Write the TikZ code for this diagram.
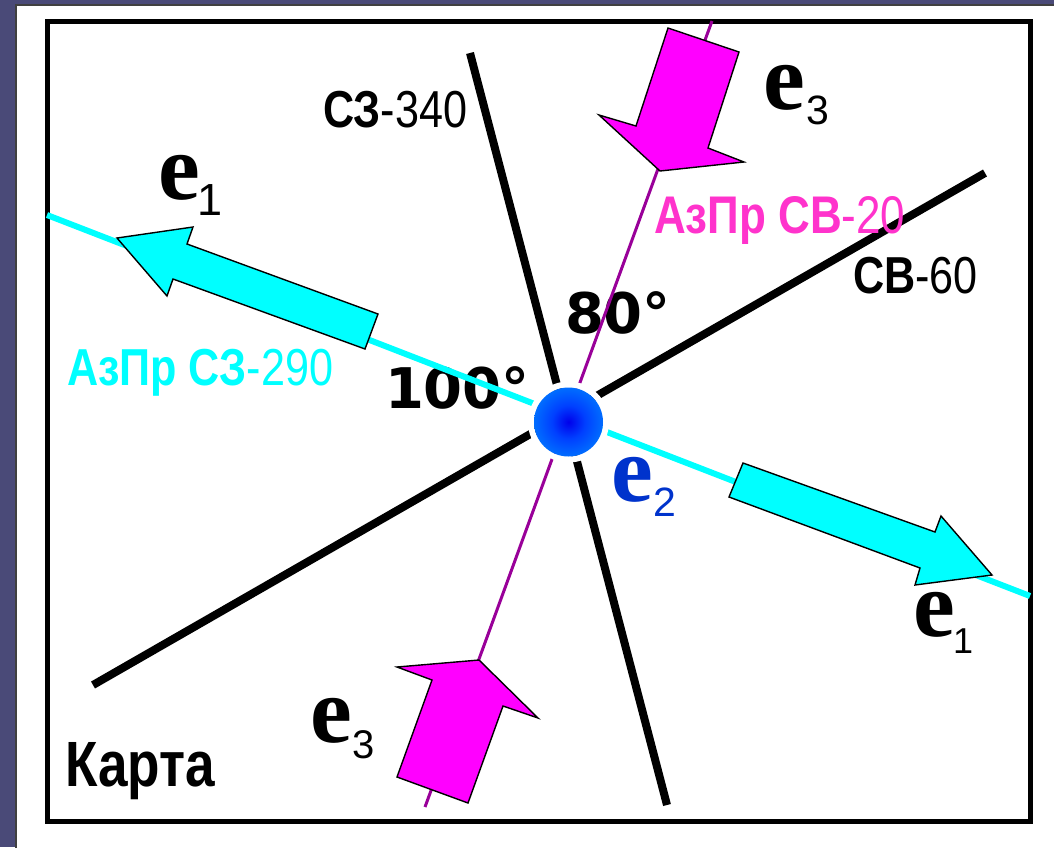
\documentclass[tikz,border=0pt]{standalone}
\usepackage{fontspec}
\setmainfont{Liberation Serif}
\newfontfamily\narrowsans[FakeStretch=0.83]{Liberation Sans}
\newfontfamily\plainsans{Liberation Sans}
\newfontfamily\degsans{DejaVu Sans}
\definecolor{slidebg}{RGB}{74,74,120}
\definecolor{axiscyan}{RGB}{0,255,255}
\definecolor{axispurple}{RGB}{153,0,153}
\definecolor{arrowmag}{RGB}{255,0,255}
\definecolor{labelmag}{RGB}{255,51,204}
\definecolor{etwo}{RGB}{0,51,204}
\pgfdeclareradialshading{ballshade}{\pgfpoint{0bp}{0bp}}{%
  rgb(0bp)=(0,0,0.92); rgb(12bp)=(0,0.25,1); rgb(34bp)=(0,0.55,1); rgb(50bp)=(0,0.6,1)}
\begin{document}
\begin{tikzpicture}[x=1pt,y=-1pt,
  axisline/.style={line width=8pt,black},
  cyanline/.style={line width=6pt,axiscyan},
  purpleline/.style={line width=3pt,axispurple},
  blockarrow/.style={draw=black,line width=1.4pt,line join=miter},
  lbl/.style={anchor=base west,inner sep=0pt,outer sep=0pt},
  vecE/.style={lbl,font=\fontsize{94}{94}\selectfont\bfseries},
  subidx/.style={lbl,font=\plainsans\fontsize{#1}{#1}\selectfont},
  dirtext/.style={lbl,font=\narrowsans\fontsize{52}{52}\selectfont},
  degtext/.style={lbl,font=\degsans\bfseries\fontsize{56}{56}\selectfont}]
\useasboundingbox (0,0) rectangle (1054,847);

% slide background and white sheet
\fill[slidebg] (0,0) rectangle (1054,847);
\fill[white,draw=black!75,line width=1.2pt] (16,5) rectangle (1056,849);

% map frame
\draw[line width=5pt,black] (47,21) rectangle (1030,821);

% angle labels (under the direction lines)
\node[degtext] (a80) at (565,333) {80°};
\node[degtext] (a100) at (385,408) {100°};

% centre point and line ends
\coordinate (O) at (568.5,422);
\coordinate (nw1) at (470,53);
\coordinate (nw2) at (667,805);
\coordinate (ne1) at (985,173);
\coordinate (ne2) at (93,685);
\coordinate (az1) at (712,21);
\coordinate (az2) at (425,807);
\coordinate (ac1) at (47,215);
\coordinate (ac2) at (1030,596);

\draw[axisline] (nw1) -- (nw2);
\draw[axisline] (ne1) -- (ne2);
\draw[purpleline] (az1) -- (az2);
\draw[cyanline] (ac1) -- (ac2);

% e1 block arrows (cyan)
\filldraw[blockarrow,fill=axiscyan]
  (117,238) -- (193,227) -- (187,244) -- (378,314) -- (365,349) -- (173,279) -- (167,296) -- cycle;
\filldraw[blockarrow,fill=axiscyan]
  (992,575) -- (941,516) -- (935,532) -- (743,463) -- (729,497) -- (920,568) -- (915,585) -- cycle;

% e3 block arrows (magenta)
\filldraw[blockarrow,fill=arrowmag]
  (660,171) -- (599,115) -- (636,126) -- (668,28) -- (739,52) -- (708,148) -- (744,162) -- cycle;
\filldraw[blockarrow,fill=arrowmag]
  (479,660) -- (397,667) -- (432,680) -- (397,777) -- (468,803) -- (503,706) -- (538,718) -- cycle;

% station point
\draw[white,line width=6pt] (O) circle[radius=37.5pt];
\shade[shading=ballshade] (O) circle[radius=34.5pt];

% direction labels
\node[dirtext] (nwlbl) at (323,127) {\bfseries СЗ\mdseries-340};
\node[dirtext] (nelbl) at (853,293) {\bfseries СВ\mdseries-60};
\node[dirtext,text=labelmag,font=\narrowsans\fontsize{53}{53}\selectfont] (azne) at (654,233) {\bfseries АзПр СВ\mdseries-20};
\node[dirtext,text=axiscyan] (aznw) at (67,385) {\bfseries АзПр СЗ\mdseries-290};
\node[dirtext,font=\narrowsans\bfseries\fontsize{64}{64}\selectfont] (map) at (65,786) {Карта};

% vector labels
\node[vecE] (e1a) at (158,199) {e};
\node[subidx=45] (e1as) at (197,215) {1};
\node[vecE] (e1b) at (913,636) {e};
\node[subidx=36] (e1bs) at (953,653) {1};
\node[vecE,text=etwo] (e2) at (611,501) {e};
\node[subidx=41,text=etwo] (e2s) at (653,516) {2};
\node[vecE] (e3a) at (763,109) {e};
\node[subidx=41] (e3as) at (806,124) {3};
\node[vecE] (e3b) at (310,742) {e};
\node[subidx=40] (e3bs) at (352,758) {3};
\end{tikzpicture}
\end{document}
